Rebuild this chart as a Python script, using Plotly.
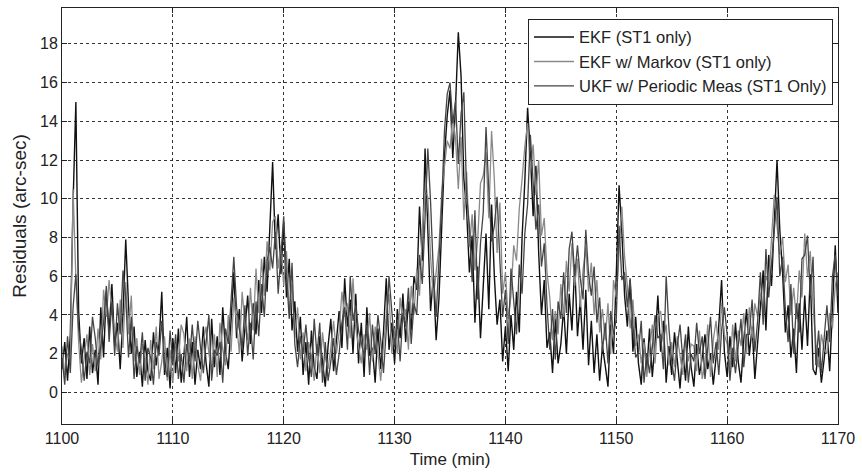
import numpy as np
import plotly.graph_objects as go

# Sample times (min), 0.25-min grid
time = np.round(np.arange(1100.0, 1170.001, 0.25), 2)

ekf_st1 = [
    1.2, 2.6, 0.6, 3.0, 9.8, 15.0, 4.2, 1.5, 2.8, 0.7, 3.4, 1.0, 2.2, 0.4, 4.4, 1.8,
    5.2, 3.1, 5.6, 2.4, 3.6, 1.2, 4.0, 7.9, 4.5, 2.0, 3.4, 0.8, 2.1, 0.3, 2.7, 1.1,
    0.6, 3.1, 1.4, 2.5, 5.2, 0.9, 2.3, 0.2, 2.8, 1.0, 3.3, 0.5, 1.9, 3.9, 0.8, 2.6,
    0.4, 2.2, 1.2, 3.4, 1.5, 0.3, 3.8, 1.3, 2.9, 0.9, 4.4, 2.1, 1.2, 3.5, 6.2, 2.8,
    4.3, 1.6, 3.1, 5.0, 2.5, 4.6, 3.0, 5.8, 4.1, 7.0, 5.2, 8.9, 11.9, 7.4, 9.2, 6.1,
    8.8, 4.9, 6.9, 3.2, 4.7, 2.1, 3.9, 0.9, 2.6, 0.4, 3.2, 1.3, 0.7, 2.9, 1.6, 0.3,
    2.4, 3.8, 1.1, 2.7, 4.2, 2.3, 5.9, 3.4, 4.8, 2.0, 5.1, 1.5, 3.6, 0.8, 4.4, 1.9,
    2.3, 0.5, 3.3, 1.2, 3.1, 5.9, 2.2, 3.6, 1.5, 4.3, 2.8, 5.1, 2.6, 4.7, 3.2, 6.0,
    5.3, 9.6, 6.8, 12.6, 8.5, 4.2, 6.0, 2.7, 4.8, 8.9, 12.2, 14.3, 15.6, 12.1, 14.8, 18.6,
    16.3, 11.0, 9.4, 6.2, 8.1, 3.6, 6.5, 2.8, 5.9, 8.2, 4.3, 9.7, 6.0, 3.5, 4.8, 1.6,
    3.4, 1.1, 4.0, 2.2, 5.2, 3.1, 8.0, 10.9, 14.7, 12.3, 9.1, 11.7, 7.2, 4.0, 5.8, 2.3,
    3.1, 1.0, 3.8, 1.5, 2.5, 4.4, 2.0, 5.1, 3.2, 6.6, 2.9, 4.8, 2.2, 5.3, 1.4, 3.7,
    1.0, 3.0, 0.6, 2.4, 1.4, 0.3, 3.5, 2.0, 6.1, 10.7, 8.3, 5.0, 3.4, 5.8, 2.1, 3.9,
    1.5, 0.4, 2.8, 1.1, 3.3, 0.8, 2.6, 5.0, 2.1, 3.7, 0.5, 2.4, 0.9, 3.1, 1.7, 0.2,
    2.2, 0.6, 3.4, 1.3, 0.3, 2.5, 0.9, 1.8, 3.0, 1.2, 2.0, 0.4, 1.8, 3.5, 5.8, 2.1,
    0.8, 2.9, 1.3, 3.6, 1.6, 0.5, 2.7, 4.3, 1.9, 3.4, 0.7, 2.6, 4.0, 6.3, 3.2, 7.1,
    5.5, 9.0, 12.0, 8.4, 6.2, 3.1, 4.5, 1.8, 3.3, 1.0, 4.6, 2.2, 5.0, 2.4, 6.1, 1.2,
    0.9, 2.3, 0.5, 1.7, 3.2, 1.1, 4.4, 7.6, 4.1,
]

ekf_markov = [
    2.4, 0.9, 2.0, 1.6, 10.5, 5.9, 2.6, 0.5, 1.8, 3.0, 0.9, 2.5, 1.1, 3.3, 1.7, 5.3,
    3.9, 5.8, 4.2, 3.0, 2.1, 4.8, 2.3, 5.7, 3.0, 5.0, 1.6, 2.8, 0.9, 2.5, 1.8, 0.4,
    2.7, 1.2, 3.4, 0.7, 1.6, 2.9, 0.6, 2.2, 0.5, 2.4, 1.6, 3.5, 3.0, 1.1, 2.8, 0.7,
    2.9, 1.4, 0.6, 2.6, 3.4, 2.0, 1.1, 3.0, 0.8, 3.6, 2.2, 1.4, 4.0, 2.1, 4.9, 3.6,
    2.0, 5.2, 3.6, 2.7, 5.4, 3.2, 6.4, 4.1, 6.9, 5.0, 7.8, 6.3, 8.8, 9.1, 6.4, 7.6,
    5.5, 7.3, 4.1, 5.6, 2.8, 4.4, 1.7, 3.1, 1.1, 2.6, 1.9, 0.6, 2.5, 1.0, 3.1, 1.8,
    1.2, 2.3, 3.7, 2.0, 3.1, 5.2, 3.9, 4.6, 2.8, 5.9, 3.3, 2.4, 1.5, 3.0, 2.2, 4.1,
    1.6, 3.4, 1.9, 0.6, 2.4, 4.0, 5.1, 2.0, 3.3, 2.0, 4.9, 3.6, 4.3, 2.2, 5.5, 4.0,
    6.4, 5.0, 8.2, 10.4, 10.1, 7.0, 4.9, 6.3, 7.5, 10.3, 11.6, 13.0, 12.6, 14.2, 13.1, 10.5,
    13.2, 8.9, 11.4, 7.5, 9.2, 6.3, 7.9, 10.8, 11.2, 12.4, 9.0, 13.5, 11.0, 7.2, 9.8, 5.1,
    6.2, 3.8, 5.0, 7.6, 6.8, 9.5, 11.0, 12.7, 13.9, 11.5, 12.8, 10.2, 12.0, 8.1, 9.0, 6.2,
    4.9, 2.7, 4.2, 3.0, 5.6, 3.9, 6.8, 5.2, 7.7, 5.5, 6.9, 4.4, 6.3, 7.5, 5.2, 6.7,
    4.0, 5.8, 3.1, 4.3, 2.7, 4.6, 2.0, 5.8, 4.9, 7.2, 9.6, 7.0, 5.5, 3.3, 4.8, 2.4,
    3.0, 1.5, 2.6, 0.8, 2.0, 3.5, 1.5, 3.9, 4.2, 2.7, 3.5, 1.4, 2.6, 1.3, 2.9, 1.9,
    0.9, 2.7, 1.6, 2.5, 2.4, 1.1, 3.2, 0.7, 1.5, 3.5, 0.8, 2.7, 3.7, 2.2, 4.6, 3.0,
    2.5, 1.2, 3.5, 1.6, 3.2, 2.4, 4.1, 2.0, 4.4, 2.8, 4.6, 3.9, 5.1, 4.2, 6.0, 5.6,
    7.8, 10.2, 8.6, 7.1, 8.0, 5.7, 6.6, 4.0, 5.4, 3.8, 6.3, 4.9, 8.2, 6.0, 7.3, 4.4,
    2.6, 1.3, 3.0, 2.2, 2.0, 4.1, 3.3, 5.5, 6.2,
]

ukf_periodic = [
    1.8, 0.4, 2.9, 1.0, 4.4, 6.1, 3.3, 2.2, 0.6, 2.1, 1.5, 3.9, 2.8, 1.3, 2.4, 3.6,
    5.5, 2.6, 4.7, 1.9, 4.6, 3.0, 6.3, 4.9, 1.8, 3.9, 0.7, 2.4, 1.5, 3.1, 0.6, 2.3,
    1.8, 0.4, 2.6, 1.9, 3.7, 1.3, 0.8, 3.2, 1.4, 3.0, 0.7, 2.0, 0.5, 2.5, 1.6, 3.5,
    1.6, 3.7, 2.3, 1.0, 2.6, 4.0, 0.6, 2.2, 1.9, 2.6, 0.5, 3.3, 2.5, 5.0, 7.0, 4.4,
    3.2, 2.2, 4.5, 1.9, 3.6, 1.7, 4.7, 2.9, 5.6, 3.9, 6.8, 7.5, 6.4, 8.3, 5.1, 7.0,
    9.1, 6.0, 3.8, 6.7, 2.5, 1.3, 2.9, 2.0, 3.5, 1.8, 0.8, 3.8, 1.9, 3.6, 0.5, 2.6,
    0.6, 1.6, 2.8, 0.9, 2.0, 3.6, 4.4, 2.2, 6.0, 3.7, 4.5, 3.2, 2.6, 1.9, 3.4, 0.9,
    3.5, 2.0, 4.0, 2.7, 1.0, 3.2, 6.0, 4.2, 2.4, 3.7, 1.6, 4.1, 3.4, 5.4, 2.5, 4.6,
    4.0, 7.1, 5.6, 9.0, 12.6, 9.8, 6.2, 3.9, 6.6, 9.7, 13.5, 15.4, 16.0, 13.9, 15.1, 11.8,
    14.4, 15.5, 10.2, 8.6, 5.7, 9.4, 4.8, 7.7, 9.3, 13.7, 10.4, 7.8, 8.6, 10.1, 6.8, 3.9,
    5.3, 2.5, 6.4, 4.6, 3.0, 6.6, 5.1, 8.2, 9.7, 13.3, 10.8, 8.4, 9.7, 6.5, 7.7, 4.5,
    2.2, 4.3, 1.7, 4.7, 3.8, 6.2, 4.1, 7.4, 8.3, 6.0, 7.6, 5.9, 4.8, 8.4, 6.1, 5.0,
    6.5, 3.6, 4.9, 2.1, 3.6, 1.5, 4.2, 3.0, 3.8, 8.6, 5.8, 6.2, 4.4, 5.9, 3.5, 1.8,
    2.1, 3.7, 0.5, 2.0, 1.0, 2.3, 4.0, 2.8, 3.0, 1.2, 6.0, 3.3, 1.6, 0.6, 2.4, 3.5,
    1.7, 3.0, 0.5, 2.0, 1.6, 3.6, 2.0, 2.9, 0.7, 2.3, 3.9, 1.5, 2.6, 0.9, 3.2, 4.4,
    3.0, 0.6, 2.3, 1.0, 2.6, 3.8, 1.3, 3.0, 3.0, 4.8, 2.1, 3.7, 6.2, 3.5, 7.4, 4.9,
    6.6, 8.5, 10.1, 6.0, 7.0, 4.3, 2.6, 5.6, 2.0, 4.6, 3.1, 6.9, 7.1, 8.1, 5.0, 7.0,
    1.4, 3.2, 1.0, 2.8, 4.5, 2.6, 6.0, 7.1, 5.0,
]

series_names = ["EKF (ST1 only)", "EKF w/ Markov (ST1 only)", "UKF w/ Periodic Meas (ST1 Only)"]
x_ticks = [1100, 1110, 1120, 1130, 1140, 1150, 1160, 1170]
y_ticks = [0, 2, 4, 6, 8, 10, 12, 14, 16, 18]

FONT = "Liberation Sans, Arial, Helvetica, sans-serif"

fig = go.Figure()
styles = [("#111111", 1.4), ("#8a8a8a", 1.3), ("#454545", 1.3)]
for name, vals, (col, w) in zip(series_names, [ekf_st1, ekf_markov, ukf_periodic], styles):
    fig.add_trace(go.Scatter(x=time, y=vals, mode="lines", name=name,
                             line=dict(color=col, width=w)))

axis_common = dict(
    showline=True, linecolor="#222", linewidth=1, mirror="ticks",
    ticks="inside", ticklen=5, tickcolor="#222",
    showgrid=True, gridcolor="#333", gridwidth=1, griddash="dot",
    zeroline=False, tickfont=dict(family=FONT, size=16, color="#222"),
)

fig.update_xaxes(range=[1100, 1170], tickvals=x_ticks,
                 title=dict(text="Time (min)", font=dict(family=FONT, size=17, color="#222"), standoff=6),
                 **axis_common)
fig.update_yaxes(range=[-1.63, 19.85], tickvals=y_ticks,
                 title=dict(text="Residuals (arc-sec)", font=dict(family=FONT, size=19, color="#222"), standoff=8),
                 **axis_common)

fig.update_layout(
    width=862, height=472,
    margin=dict(l=62, r=23, t=7, b=46),
    plot_bgcolor="white", paper_bgcolor="white",
    font=dict(family=FONT, color="#222"),
    legend=dict(x=0.9936, y=0.974, xanchor="right", yanchor="top",
                bgcolor="white", bordercolor="#222", borderwidth=1,
                font=dict(family=FONT, size=16.5, color="#222"),
                itemwidth=40, tracegroupgap=0),
    showlegend=True,
)

fig.write_html("out.html")
